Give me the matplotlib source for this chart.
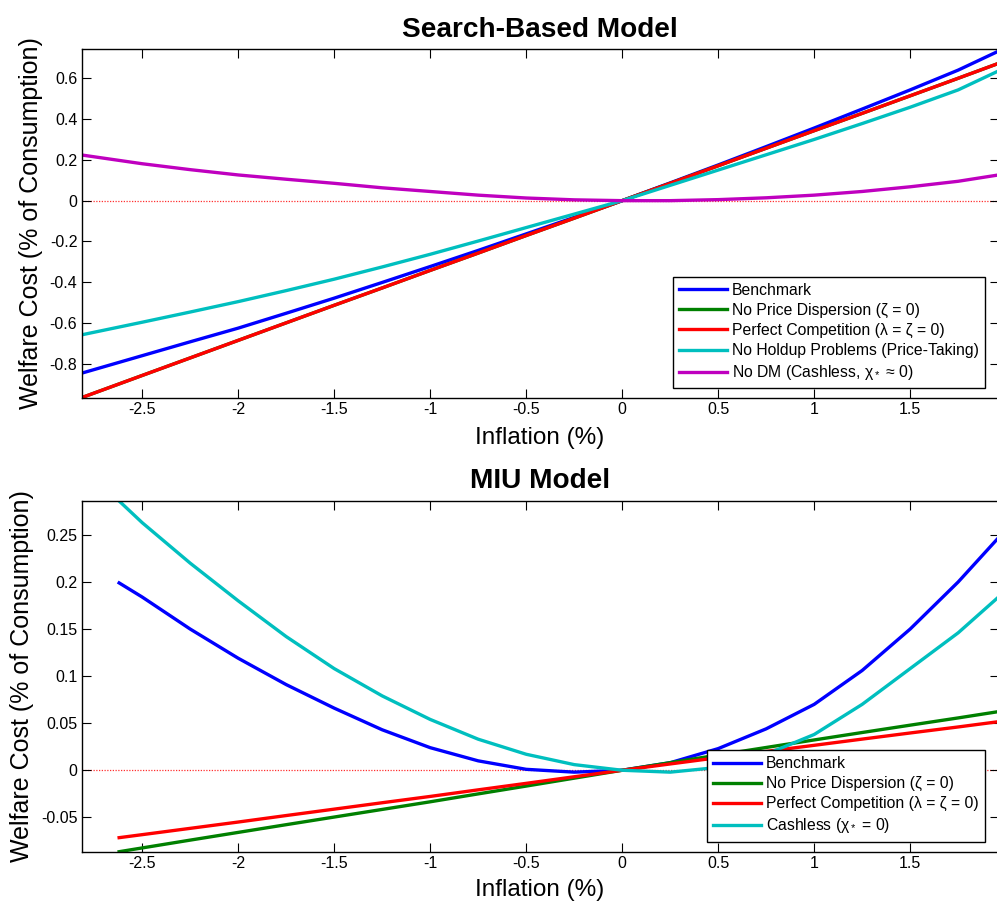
import matplotlib
matplotlib.use("Agg")
import matplotlib.pyplot as plt
from matplotlib.ticker import FuncFormatter, MultipleLocator

plt.rcParams['font.family'] = ['Liberation Sans', 'DejaVu Sans']
plt.rcParams['axes.unicode_minus'] = False
plt.rcParams['mathtext.fontset'] = 'custom'
plt.rcParams['mathtext.rm'] = 'Liberation Sans'
plt.rcParams['mathtext.it'] = 'Liberation Sans:italic'

# ---------------- Search-based model (top) ----------------
x_top = [-2.816, -2.5, -2.25, -2.0, -1.75, -1.5, -1.25, -1.0, -0.75, -0.5, -0.25,
         0.0, 0.25, 0.5, 0.75, 1.0, 1.25, 1.5, 1.75, 1.96]
top_benchmark = [-0.846, -0.760, -0.692, -0.625, -0.552, -0.478, -0.401, -0.323, -0.244, -0.163, -0.082,
                 0.0, 0.087, 0.175, 0.265, 0.356, 0.449, 0.543, 0.640, 0.733]
top_noprice = [-0.966, -0.857, -0.771, -0.685, -0.599, -0.513, -0.428, -0.342, -0.257, -0.171, -0.086,
               0.0, 0.085, 0.171, 0.257, 0.343, 0.428, 0.514, 0.600, 0.673]
top_perfect = [-0.966, -0.857, -0.771, -0.685, -0.599, -0.513, -0.428, -0.342, -0.257, -0.171, -0.086,
               0.0, 0.085, 0.171, 0.257, 0.343, 0.428, 0.514, 0.600, 0.673]
top_noholdup = [-0.658, -0.596, -0.546, -0.495, -0.441, -0.385, -0.325, -0.263, -0.198, -0.132, -0.066,
                0.0, 0.075, 0.150, 0.225, 0.300, 0.378, 0.458, 0.543, 0.636]
top_nodm = [0.224, 0.181, 0.152, 0.126, 0.105, 0.085, 0.063, 0.045, 0.027, 0.013, 0.004,
            0.0, 0.0, 0.005, 0.014, 0.027, 0.045, 0.068, 0.095, 0.126]

# ---------------- MIU model (bottom) ----------------
x_bot = [-2.62, -2.5, -2.25, -2.0, -1.75, -1.5, -1.25, -1.0, -0.75, -0.5, -0.25,
         0.0, 0.25, 0.5, 0.75, 1.0, 1.25, 1.5, 1.75, 1.96]
bot_benchmark = [0.199, 0.184, 0.150, 0.119, 0.091, 0.066, 0.043, 0.024, 0.010, 0.001, -0.002,
                 0.0, 0.008, 0.023, 0.044, 0.070, 0.106, 0.150, 0.200, 0.247]
bot_noprice = [-0.0865, -0.0825, -0.0742, -0.0660, -0.0578, -0.0497, -0.0416, -0.0335, -0.0251, -0.0168, -0.0084,
               0.0, 0.0081, 0.0162, 0.0242, 0.0322, 0.0401, 0.0479, 0.0556, 0.0623]
bot_perfect = [-0.0716, -0.0684, -0.0617, -0.0550, -0.0481, -0.0413, -0.0345, -0.0278, -0.0208, -0.0139, -0.0069,
               0.0, 0.0067, 0.0134, 0.0200, 0.0265, 0.0331, 0.0396, 0.0460, 0.0516]
bot_cashless = [0.286, 0.263, 0.220, 0.180, 0.142, 0.108, 0.079, 0.054, 0.033, 0.017, 0.006,
                0.0, -0.002, 0.003, 0.017, 0.038, 0.070, 0.108, 0.146, 0.184]

labels_top = ['Benchmark',
              'No Price Dispersion (ζ = 0)',
              'Perfect Competition (λ = ζ = 0)',
              'No Holdup Problems (Price-Taking)',
              r'No DM (Cashless, χ$_*$ ≈ 0)']
labels_bot = ['Benchmark',
              'No Price Dispersion (ζ = 0)',
              'Perfect Competition (λ = ζ = 0)',
              r'Cashless (χ$_*$ = 0)']

C_BLUE = (0, 0, 1)
C_GREEN = (0, 0.5, 0)
C_RED = (1, 0, 0)
C_CYAN = (0, 0.75, 0.75)
C_MAG = (0.75, 0, 0.75)

W, H = 997, 908
fig = plt.figure(figsize=(W / 100, H / 100), dpi=100)

def px_axes(l, t, r, b):
    return fig.add_axes([l / W, 1 - b / H, (r - l) / W, (b - t) / H])

ax1 = px_axes(81.5, 49.3, 998.5, 397.7)
ax2 = px_axes(81.5, 501.0, 998.5, 851.7)

LW = 2.4
fmt = FuncFormatter(lambda v, p: f'{v:g}')

def style(ax, ylo, yhi, ystep, lp):
    ax.set_xlim(-2.816, 1.96)
    ax.set_ylim(ylo, yhi)
    ax.xaxis.set_major_locator(MultipleLocator(0.5))
    ax.yaxis.set_major_locator(MultipleLocator(ystep))
    ax.xaxis.set_major_formatter(fmt)
    ax.yaxis.set_major_formatter(fmt)
    ax.tick_params(direction='in', length=6.5, width=0.8, top=True, right=True,
                   labelsize=11.5, pad=3.0)
    for s in ax.spines.values():
        s.set_linewidth(1.0)
    zl = ax.axhline(0, color='#ff3030', linestyle=(0, (1, 1.2)), linewidth=0.9, zorder=1)
    zl.set_snap(True)
    ax.set_xlabel('Inflation (%)', fontsize=17.5, labelpad=lp)
    ax.set_ylabel('Welfare Cost (% of Consumption)', fontsize=18, labelpad=5)

style(ax1, -0.966, 0.742, 0.2, 7)
ax1.plot(x_top, top_benchmark, color=C_BLUE, lw=LW, label=labels_top[0])
ax1.plot(x_top, top_noprice, color=C_GREEN, lw=LW, label=labels_top[1])
ax1.plot(x_top, top_perfect, color=C_RED, lw=LW, label=labels_top[2])
ax1.plot(x_top, top_noholdup, color=C_CYAN, lw=LW, label=labels_top[3])
ax1.plot(x_top, top_nodm, color=C_MAG, lw=LW, label=labels_top[4])
ax1.set_title('Search-Based Model', fontsize=20.2, fontweight='bold', pad=9)

style(ax2, -0.0865, 0.286, 0.05, 5.5)
ax2.plot(x_bot, bot_benchmark, color=C_BLUE, lw=LW, label=labels_bot[0])
ax2.plot(x_bot, bot_noprice, color=C_GREEN, lw=LW, label=labels_bot[1])
ax2.plot(x_bot, bot_perfect, color=C_RED, lw=LW, label=labels_bot[2])
ax2.plot(x_bot, bot_cashless, color=C_CYAN, lw=LW, label=labels_bot[3])
ax2.set_title('MIU Model', fontsize=20.2, fontweight='bold', pad=9)

leg_kw = dict(loc='lower right', borderaxespad=0, fontsize=11.3, fancybox=False,
              edgecolor='black', framealpha=1, handlelength=3.05, handletextpad=0.3,
              labelspacing=0.32, borderpad=0.4)
l1 = ax1.legend(bbox_to_anchor=(0.9853, 0.027), **leg_kw)
l2 = ax2.legend(bbox_to_anchor=(0.985, 0.0285), **leg_kw)
for l in (l1, l2):
    l.get_frame().set_linewidth(1.0)
    for h in l.get_lines():
        h.set_linewidth(2.4)

fig.savefig('out.png', dpi=100)
